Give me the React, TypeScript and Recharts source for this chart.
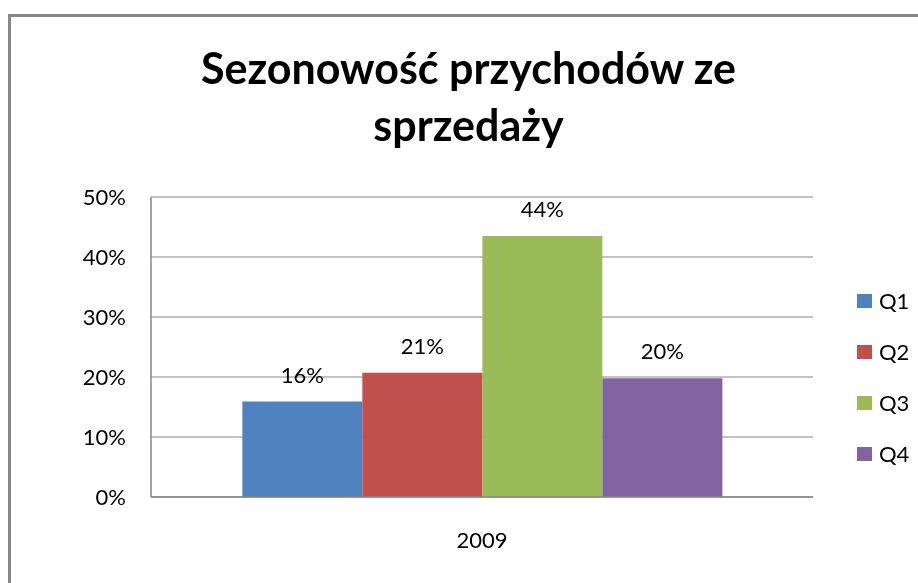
import React from 'react';
import { BarChart, Bar, XAxis, YAxis, CartesianGrid, Legend, LabelList } from 'recharts';

const categories = ['2009'];
const seriesNames = ['Q1', 'Q2', 'Q3', 'Q4'];
const q1Values = [0.159];
const q2Values = [0.207];
const q3Values = [0.435];
const q4Values = [0.198];
const seriesColors = ['#4F81BD', '#C0504D', '#9BBB59', '#8064A2'];
const yTicks = [0, 0.1, 0.2, 0.3, 0.4, 0.5];
const titleLines = ['Sezonowość przychodów ze', 'sprzedaży'];

const seriesValues = [q1Values, q2Values, q3Values, q4Values];
const data = categories.map((c, i) => {
  const row: Record<string, any> = { name: c };
  seriesNames.forEach((s, k) => {
    row[s] = seriesValues[k][i];
  });
  return row;
});

const FONT = 'Lato, "Liberation Sans", Arial, sans-serif';
const pct = (v: number) => `${Math.round(v * 100)}%`;

const renderLegend = () => (
  <div style={{ fontFamily: FONT, fontSize: 22, color: '#000' }}>
    {seriesNames.map((s, i) => (
      <div key={s} style={{ height: 51, display: 'flex', alignItems: 'center' }}>
        <span style={{ display: 'inline-block', width: 15, height: 14, background: seriesColors[i], marginRight: 7 }} />
        <span>{s}</span>
      </div>
    ))}
  </div>
);

export default function App() {
  return (
    <div
      style={{
        position: 'fixed',
        left: 8,
        top: 14,
        width: 907,
        height: 566,
        borderTop: '3px solid #878787',
        borderLeft: '3px solid #878787',
        background: '#fff',
        fontFamily: FONT,
      }}
    >
      <div style={{ position: 'relative', width: 907, height: 566 }}>
        <div
          style={{
            position: 'absolute',
            left: 4,
            top: 22,
            width: 907,
            textAlign: 'center',
            fontFamily: FONT,
            fontWeight: 700,
            fontSize: 43,
            lineHeight: '57px',
            color: '#000',
          }}
        >
          {titleLines.map((l) => (
            <div key={l}>{l}</div>
          ))}
        </div>
        <div style={{ position: 'absolute', left: 0, top: 0 }}>
          <BarChart
            width={907}
            height={566}
            data={data}
            margin={{ top: 180, right: 105, bottom: 26, left: 0 }}
            barCategoryGap="13.8%"
            barGap={0}
          >
            <CartesianGrid vertical={false} stroke="#868686" strokeWidth={1} />
            <XAxis
              dataKey="name"
              tickLine={false}
              tickSize={0}
              tickMargin={35}
              height={60}
              axisLine={{ stroke: '#868686', strokeWidth: 1.5 }}
              tick={{ fill: '#000', fontSize: 22, fontFamily: FONT }}
            />
            <YAxis
              width={140}
              domain={[0, 0.5]}
              ticks={yTicks}
              tickFormatter={pct}
              tickLine={false}
              tickSize={0}
              tickMargin={25}
              axisLine={{ stroke: '#868686', strokeWidth: 1.5 }}
              tick={{ fill: '#000', fontSize: 22, fontFamily: FONT }}
            />
            <Legend
              layout="vertical"
              align="center"
              verticalAlign="middle"
              content={renderLegend}
              wrapperStyle={{ left: 846, top: 258, width: 70 }}
            />
            {seriesNames.map((s, i) => (
              <Bar key={s} dataKey={s} fill={seriesColors[i]} isAnimationActive={false}>
                <LabelList
                  dataKey={s}
                  position="top"
                  offset={19}
                  formatter={(v: any) => pct(Number(v))}
                  fill="#000"
                  fontSize={22}
                  fontFamily={FONT}
                />
              </Bar>
            ))}
          </BarChart>
        </div>
      </div>
    </div>
  );
}
